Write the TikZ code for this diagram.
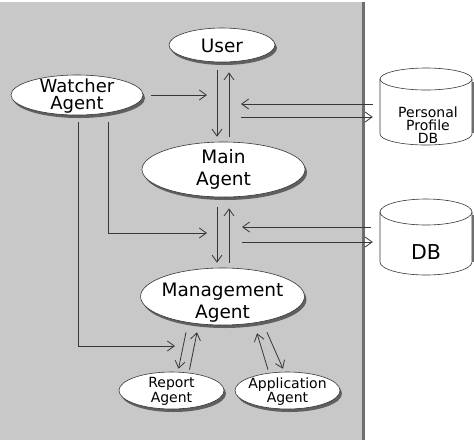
\documentclass[tikz,border=0pt]{standalone}
\usepackage{fontspec}
\setmainfont{DejaVu Sans}
\usetikzlibrary{shapes.geometric,arrows.meta,shadows,calc}
\definecolor{panel}{RGB}{200,200,200}
\definecolor{edge}{RGB}{110,110,110}
\definecolor{ink}{RGB}{55,55,55}
\definecolor{shade}{RGB}{95,95,95}
\begin{document}
\begin{tikzpicture}[x=1pt,y=-1pt,
  agent/.style={ellipse, draw=ink, line width=0.6pt, fill=white, inner sep=0pt, align=center,
    text depth=0pt, drop shadow={shadow xshift=2pt, shadow yshift=-3pt, fill=shade, opacity=1}},
  bigtext/.style={font=\fontsize{18.5}{#1}\selectfont},
  smalltext/.style={font=\fontsize{14}{#1}\selectfont},
  conn/.style={draw=ink, line width=0.8pt, -{Straight Barb[length=7pt,width=10pt]}},
  cyl/.style={draw=ink, line width=0.6pt, fill=white},
  cylshade/.style={draw=edge, line width=2pt}
]
\useasboundingbox (0,0) rectangle (474,440);
\fill[panel] (0,2) rectangle (362,440);
\draw[edge, line width=2.5pt] (363.5,2) -- (363.5,440);

% agents
\node[agent, bigtext=20, text height=14.5pt, minimum width=106pt, minimum height=34pt] (user) at (222,45) {User};
\node[agent, font=\fontsize{18}{17}\selectfont, text height=28pt, inner ysep=-8pt, minimum width=132pt, minimum height=40pt] (watcher) at (77,95) {Watcher\\Agent};
\node[agent, bigtext=22, text height=31pt, inner ysep=-8pt, minimum width=163pt, minimum height=55pt] (main) at (223.5,169.5) {Main\\Agent};
\node[agent, bigtext=21.5, text height=43pt, inner ysep=-10pt, inner xsep=-3pt, minimum width=163pt, minimum height=57pt] (mgmt) at (222.5,296.5) {Management\\Agent};
\node[agent, smalltext=14.5, text height=23pt, inner ysep=-6pt, minimum width=105pt, minimum height=37pt] (report) at (171.5,390.5) {Report\\Agent};
\node[agent, smalltext=14.5, text height=24.4pt, inner ysep=-6pt, inner xsep=-3pt, minimum width=105pt, minimum height=37pt] (app) at (287.5,390.5) {Application\\Agent};

% databases
\node[minimum width=92pt, minimum height=77pt, inner sep=0pt] (ppdb) at (426,106.5) {};
\filldraw[cyl] (380,79) -- (380,134) arc[start angle=180, end angle=360, x radius=46pt, y radius=11pt] -- (472,79) arc[start angle=0, end angle=180, x radius=46pt, y radius=11pt] -- cycle;
\draw[cyl, fill=none] (380,79) arc[start angle=180, end angle=360, x radius=46pt, y radius=11pt];
\draw[cylshade] (473,82) -- (473,133);
\node[smalltext=13, text height=40pt, text depth=0pt, align=center, inner sep=0pt] (ppdbl) at (428,123) {Personal\\Profile\\DB};

\node[minimum width=92pt, minimum height=76pt, inner sep=0pt] (db) at (426,237) {};
\filldraw[cyl] (380,212) -- (380,262) arc[start angle=180, end angle=360, x radius=46pt, y radius=13pt] -- (472,212) arc[start angle=0, end angle=180, x radius=46pt, y radius=13pt] -- cycle;
\draw[cyl, fill=none] (380,212) arc[start angle=180, end angle=360, x radius=46pt, y radius=13pt];
\draw[cylshade] (473,215) -- (473,262);
\node[font=\fontsize{20.5}{20}\selectfont, text height=13pt, text depth=0pt, inner sep=0pt] (dbl) at (426,253) {DB};

% free ends
\coordinate (wA) at (207,95);
\coordinate (wB) at (207,233);
\coordinate (wC) at (175,346);
\coordinate (pA) at (241,104);
\coordinate (pB) at (241,117);
\coordinate (dA) at (242,227);
\coordinate (dB) at (242,242);

% user <-> main
\draw[conn] ($(user.south)+(-5,8)$) -- ($(main.north)+(-6.5,-5)$);
\draw[conn] ($(main.north)+(5.5,-5)$) -- ($(user.south)+(7,10)$);
% main <-> management
\draw[conn] ($(main.south)+(-6.5,10)$) -- ($(mgmt.north)+(-5.5,-5)$);
\draw[conn] ($(mgmt.north)+(6.5,-5)$) -- ($(main.south)+(5.5,11)$);
% watcher
\draw[conn] ($(watcher.east)+(8,0)$) -- (wA);
\draw[conn] ($(watcher.south)+(31,7)$) |- (wB);
\draw[conn] ($(watcher.south)+(1,7)$) |- (wC);
% personal profile db
\draw[conn] ($(ppdb.west)+(-7,-2.5)$) -- (pA);
\draw[conn] (pB) -- ($(ppdb.west)+(-7,10.5)$);
% db
\draw[conn] ($(db.west)+(-9,-10)$) -- (dA);
\draw[conn] (dB) -- ($(db.west)+(-7,5)$);
% management <-> report / application
\draw[conn] ($(mgmt.south)+(-36.5,7)$) -- ($(report.north)+(7,-3)$);
\draw[conn] ($(report.north)+(18,-2)$) -- ($(mgmt.south)+(-25.5,7)$);
\draw[conn] ($(mgmt.south)+(44.5,7)$) -- ($(app.north)+(-4.5,-3)$);
\draw[conn] ($(app.north)+(-19.5,-2)$) -- ($(mgmt.south)+(34.5,8)$);
\end{tikzpicture}
\end{document}
